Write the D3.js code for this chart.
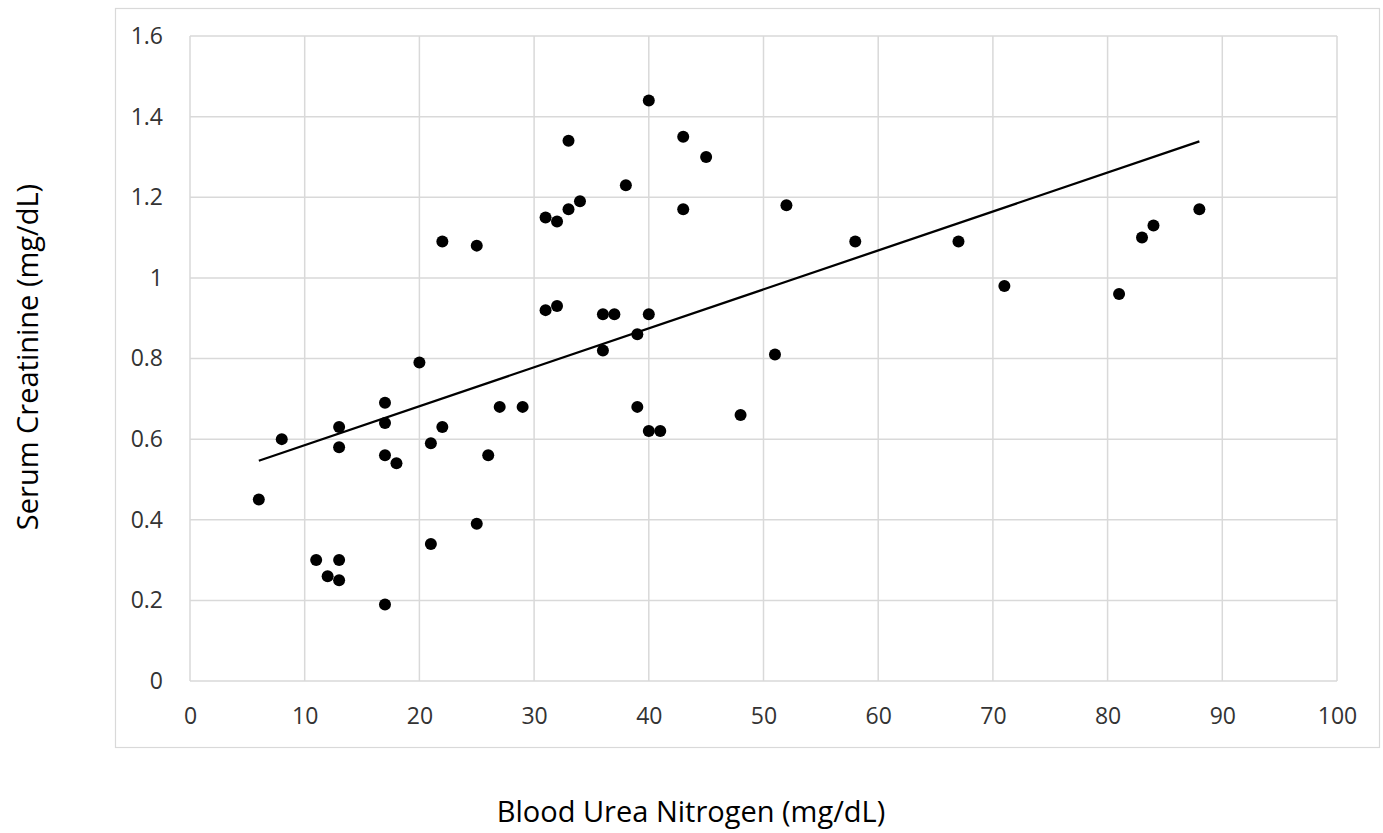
<!DOCTYPE html>
<html>
<head>
<meta charset="utf-8">
<script src="https://cdn.jsdelivr.net/npm/d3@7"></script>
<style>
  body { margin: 0; background: #fff; }
  text { font-family: 'Open Sans', sans-serif; }
</style>
</head>
<body>
<svg id="chart" width="1383" height="833"></svg>
<script>
// BUN (mg/dL) and serum creatinine (mg/dL)
const bun = [6, 8, 11, 12, 13, 13, 13, 13, 17, 17, 17, 17, 18, 20, 21, 21, 22, 22,
  25, 25, 26, 27, 29, 31, 31, 32, 32, 33, 33, 34, 36, 36, 37, 38, 39, 39, 40, 40, 40,
  41, 43, 43, 45, 48, 51, 52, 58, 67, 71, 81, 83, 84, 88]
const creatinine = [0.45, 0.60, 0.30, 0.26, 0.63, 0.58, 0.30, 0.25, 0.69, 0.64, 0.56, 0.19, 0.54, 0.79, 0.59, 0.34, 1.09, 0.63,
  1.08, 0.39, 0.56, 0.68, 0.68, 1.15, 0.92, 1.14, 0.93, 1.34, 1.17, 1.19, 0.91, 0.82, 0.91, 1.23, 0.86, 0.68, 1.44, 0.91, 0.62,
  0.62, 1.35, 1.17, 1.30, 0.66, 0.81, 1.18, 1.09, 1.09, 0.98, 0.96, 1.10, 1.13, 1.17]

const xTicks = [0, 10, 20, 30, 40, 50, 60, 70, 80, 90, 100]
const yTicks = [0, 0.2, 0.4, 0.6, 0.8, 1, 1.2, 1.4, 1.6]

const xTitle = 'Blood Urea Nitrogen (mg/dL)'
const yTitle = 'Serum Creatinine (mg/dL)'

const points = bun.map((b, i) => ({ x: b, y: creatinine[i] }))

// least squares fit for the trend line
function linearFit(pts) {
    const mx = d3.mean(pts, d => d.x)
    const my = d3.mean(pts, d => d.y)
    let sxy = 0
    let sxx = 0
    for (const p of pts) {
        sxy += (p.x - mx) * (p.y - my)
        sxx += (p.x - mx) * (p.x - mx)
    }
    const slope = sxy / sxx
    return { slope, intercept: my - slope * mx }
}

const svg = d3.select('#chart')
const margin = { top: 36, right: 46, bottom: 152, left: 190 }
const width = 1383
const height = 833

const xScale = d3.scaleLinear().domain([0, 100]).range([margin.left, width - margin.right])
const yScale = d3.scaleLinear().domain([0, 1.6]).range([height - margin.bottom, margin.top])

// outer chart-area frame
svg.append('rect')
    .attr('x', 115.5)
    .attr('y', 8.5)
    .attr('width', 1264)
    .attr('height', 739)
    .attr('fill', 'none')
    .attr('stroke', '#d9d9d9')
    .attr('stroke-width', 1.2)

const grid = svg.append('g').attr('class', 'grid')
grid.selectAll('line.h')
    .data(yTicks)
    .join('line')
    .attr('class', 'h')
    .attr('x1', xScale(0))
    .attr('x2', xScale(100))
    .attr('y1', d => yScale(d))
    .attr('y2', d => yScale(d))
grid.selectAll('line.v')
    .data(xTicks)
    .join('line')
    .attr('class', 'v')
    .attr('x1', d => xScale(d))
    .attr('x2', d => xScale(d))
    .attr('y1', yScale(0))
    .attr('y2', yScale(1.6))
grid.selectAll('line')
    .attr('stroke', '#d9d9d9')
    .attr('stroke-width', 1.5)

const xAxis = g =>
    g
        .attr('transform', `translate(0,${yScale(0)})`)
        .call(d3.axisBottom(xScale).tickValues(xTicks).tickSize(0).tickPadding(27).tickFormat(d3.format('d')))
        .call(g => g.select('.domain').remove())

const yAxis = g =>
    g
        .attr('transform', `translate(${xScale(0)},0)`)
        .call(d3.axisLeft(yScale).tickValues(yTicks).tickSize(0).tickPadding(27).tickFormat(d => String(+d.toFixed(1))))
        .call(g => g.select('.domain').remove())

svg.append('g').call(xAxis)
svg.append('g').call(yAxis)
svg.selectAll('.tick text')
    .attr('fill', '#333')
    .style('font-size', '23px')
    .style('font-family', "'Open Sans', sans-serif")

// trend line
const fit = linearFit(points)
const xExt = d3.extent(bun)
const line = d3.line().x(d => xScale(d)).y(d => yScale(fit.intercept + fit.slope * d))
svg.append('path')
    .datum(xExt)
    .attr('d', line)
    .attr('fill', 'none')
    .attr('stroke', '#000')
    .attr('stroke-width', 2.3)

svg.append('g')
    .selectAll('circle')
    .data(points)
    .join('circle')
    .attr('cx', d => xScale(d.x))
    .attr('cy', d => yScale(d.y))
    .attr('r', 6)
    .attr('fill', '#000')

svg.append('text')
    .attr('x', 691)
    .attr('y', 822)
    .attr('text-anchor', 'middle')
    .attr('fill', '#000')
    .style('font-size', '29px')
    .text(xTitle)

svg.append('text')
    .attr('transform', 'translate(38,357) rotate(-90)')
    .attr('text-anchor', 'middle')
    .attr('fill', '#000')
    .style('font-size', '29px')
    .text(yTitle)
</script>
</body>
</html>
